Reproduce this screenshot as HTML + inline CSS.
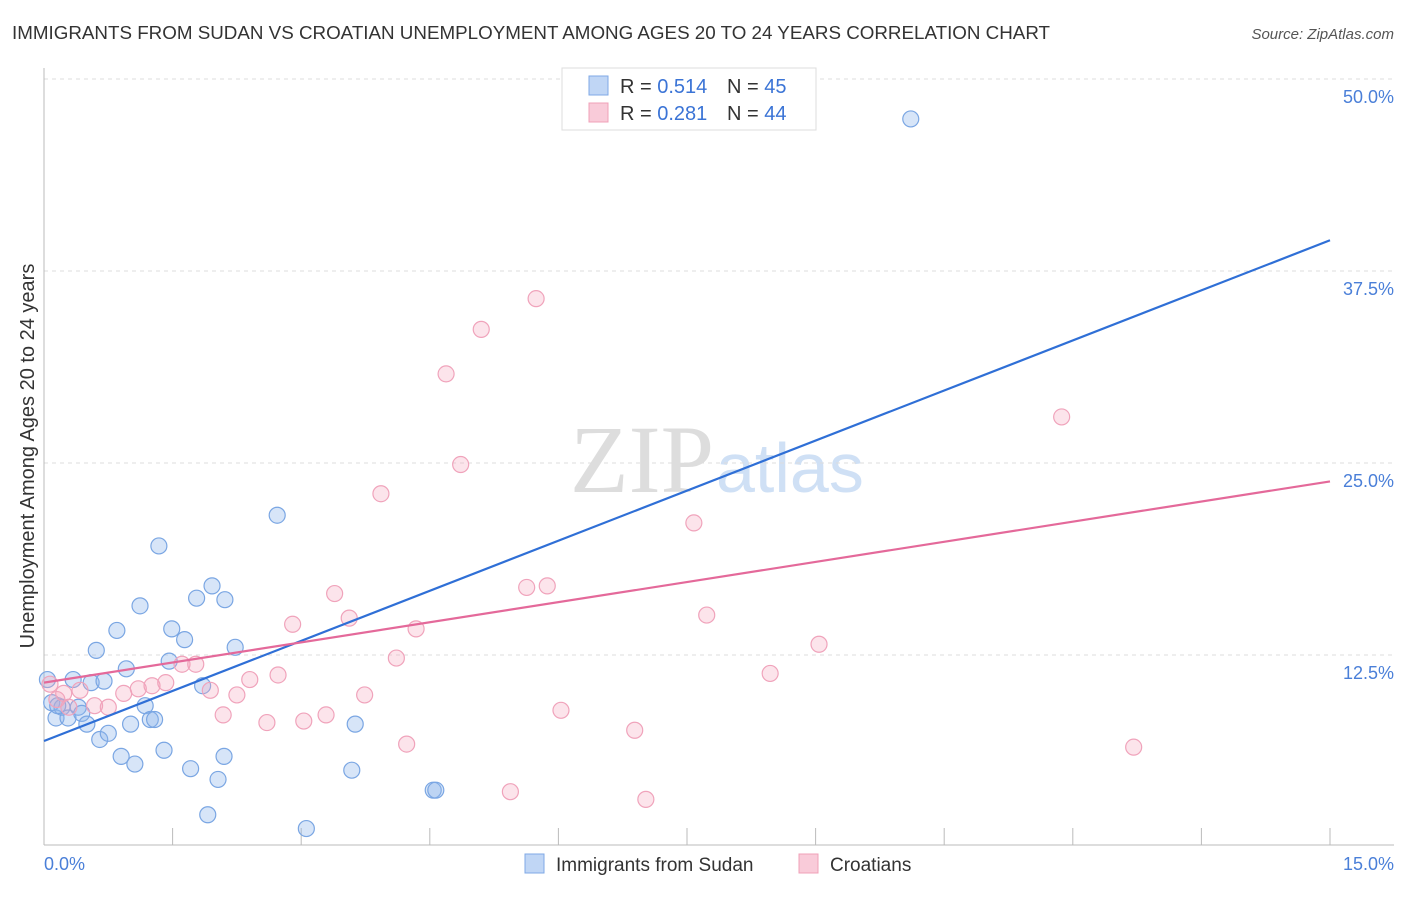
<!DOCTYPE html>
<html><head><meta charset="utf-8"><style>
body{margin:0;background:#fff;font-family:"Liberation Sans",sans-serif;}
</style></head><body>
<svg width="1406" height="892" xmlns="http://www.w3.org/2000/svg" font-family="Liberation Sans, sans-serif">
<text x="12" y="39" font-size="18.8" fill="#333">IMMIGRANTS FROM SUDAN VS CROATIAN UNEMPLOYMENT AMONG AGES 20 TO 24 YEARS CORRELATION CHART</text>
<text x="1394" y="39" font-size="15" fill="#555" font-style="italic" text-anchor="end">Source: ZipAtlas.com</text>
<text x="714" y="492" font-size="96" fill="#ddd" font-family="Liberation Serif, serif" text-anchor="end">ZIP</text>
<text x="716" y="492" font-size="70" fill="#cfe0f5">atlas</text>
<g id="grid"></g>
<g id="axes"></g>
<g id="pts"></g>
<g id="lines"></g>
<text transform="translate(34,456) rotate(-90)" font-size="20" fill="#333" text-anchor="middle">Unemployment Among Ages 20 to 24 years</text>
<text x="44" y="870" font-size="18" fill="#4a7fd8">0.0%</text>
<text x="1394" y="870" font-size="18" fill="#4a7fd8" text-anchor="end">15.0%</text>
<g>
<rect x="562" y="68" width="254" height="62" fill="#fff" stroke="#ddd"/>
<rect x="589" y="76" width="19" height="19" fill="#c0d6f5" stroke="#7fa8e6"/>
<text x="620" y="93" font-size="20" fill="#333">R = <tspan fill="#3b74d6">0.514</tspan></text>
<text x="727" y="93" font-size="20" fill="#333">N = <tspan fill="#3b74d6">45</tspan></text>
<rect x="589" y="103" width="19" height="19" fill="#f9cbd9" stroke="#f0a0b8"/>
<text x="620" y="120" font-size="20" fill="#333">R = <tspan fill="#3b74d6">0.281</tspan></text>
<text x="727" y="120" font-size="20" fill="#333">N = <tspan fill="#3b74d6">44</tspan></text>
</g>
<g>
<rect x="525" y="854" width="19" height="19" fill="#c0d6f5" stroke="#7fa8e6"/>
<text x="556" y="871" font-size="19" fill="#333">Immigrants from Sudan</text>
<rect x="799" y="854" width="19" height="19" fill="#f9cbd9" stroke="#f0a0b8"/>
<text x="830" y="871" font-size="19" fill="#333">Croatians</text>
</g>
</svg>
<script>
const yTicks=[12.5,25,37.5,50];
const yTickLabels=["12.5%","25.0%","37.5%","50.0%"];
const xTicks=[1.5,3,4.5,6,7.5,9,10.5,12,13.5,15];
const sudanX=[0.04,0.09,0.14,0.21,0.28,0.34,0.4,0.44,0.5,0.55,0.61,0.65,0.7,0.75,0.85,0.9,0.96,1.01,1.06,1.12,1.18,1.24,1.29,1.34,1.4,1.46,1.49,1.64,1.71,1.78,1.85,1.91,1.96,2.03,2.1,2.11,2.23,2.72,3.06,3.59,3.63,4.54,4.57,10.11,0.16];
const sudanY=[10.9,9.4,8.4,9.1,8.4,10.9,9.1,8.7,8.0,10.7,12.8,7.0,10.8,7.4,14.1,5.9,11.6,8.0,5.4,15.7,9.2,8.3,8.3,19.6,6.3,12.1,14.2,13.5,5.1,16.2,10.5,2.1,17.0,4.4,5.9,16.1,13.0,21.6,1.2,5.0,8.0,3.7,3.7,47.4,9.2];
const croX=[0.07,0.15,0.23,0.29,0.42,0.59,0.75,0.93,1.1,1.26,1.42,1.61,1.77,1.94,2.09,2.25,2.4,2.6,2.73,2.9,3.03,3.29,3.39,3.56,3.74,3.93,4.11,4.23,4.34,4.69,4.86,5.1,5.44,5.63,5.74,5.87,6.03,6.31,6.89,7.02,7.58,7.73,8.47,9.04,11.87,12.71];
const croY=[10.6,9.6,10.0,9.1,10.2,9.2,9.1,10.0,10.3,10.5,10.7,11.9,11.9,10.2,8.6,9.9,10.9,8.1,11.2,14.5,8.2,8.6,16.5,14.9,9.9,23.0,12.3,6.7,14.2,30.8,24.9,33.7,3.6,16.9,35.7,17.0,8.9,50.0,7.6,3.1,21.1,15.1,11.3,13.2,28.0,6.5];
const blueLine=[6.9,39.5];
const pinkLine=[10.7,23.8];
const NS="http://www.w3.org/2000/svg";
const X=v=>44+v*(1286/15), Y=v=>847-v*15.36;
function mk(t,a,p){const e=document.createElementNS(NS,t);for(const k in a)e.setAttribute(k,a[k]);document.getElementById(p).appendChild(e);return e;}
yTicks.forEach((t,i)=>{
 const g=mk('line',{x1:44,x2:1394,y1:Y(t),y2:Y(t),stroke:'#ddd','stroke-dasharray':'4,4'},'grid');
 
 
 const l=mk('text',{x:1394,y:Y(t)+24,'font-size':18,fill:'#4a7fd8','text-anchor':'end'},'grid');
 l.textContent=yTickLabels[i];
 
 
});
const ax=mk('line',{x1:44,x2:44,y1:68,y2:845,stroke:'#bbb'},'axes');


const bx=mk('line',{x1:44,x2:1394,y1:845,y2:845,stroke:'#bbb'},'axes');


xTicks.forEach(t=>{
 const e=mk('line',{x1:X(t),x2:X(t),y1:828,y2:845,stroke:'#bbb'},'axes');
 
 
});
sudanX.forEach((v,i)=>{
 const c=mk('circle',{cx:X(v),cy:Y(sudanY[i]),r:8,fill:'rgba(140,180,235,0.35)',stroke:'#7aa6e3','stroke-width':1.2},'pts');
 
 
});
croX.forEach((v,i)=>{
 const c=mk('circle',{cx:X(v),cy:Y(croY[i]),r:8,fill:'rgba(245,165,190,0.3)',stroke:'#f0a3bb','stroke-width':1.2},'pts');
 
 
});
const b=mk('line',{x1:X(0),y1:Y(blueLine[0]),x2:X(15),y2:Y(blueLine[1]),stroke:'#2f6fd6','stroke-width':2.2},'lines');


const p=mk('line',{x1:X(0),y1:Y(pinkLine[0]),x2:X(15),y2:Y(pinkLine[1]),stroke:'#e4699a','stroke-width':2.2},'lines');


</script>
</body></html>
